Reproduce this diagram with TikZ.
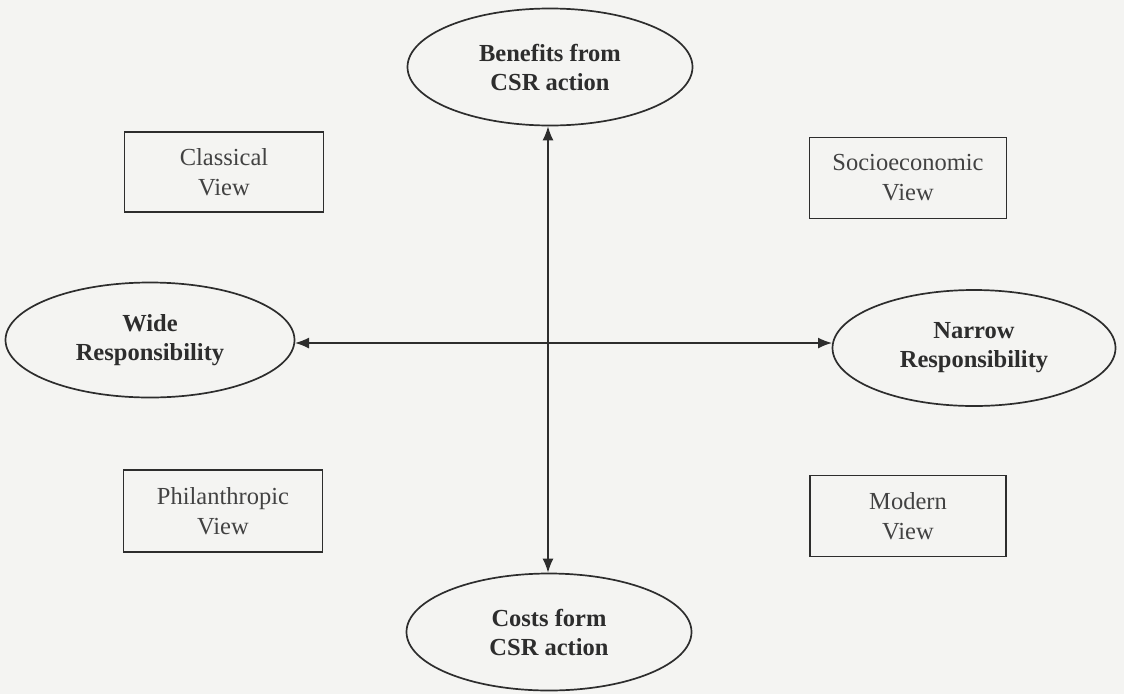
\documentclass[tikz,border=0pt]{standalone}
\usepackage{fontspec}
\setmainfont{Liberation Serif}
\usetikzlibrary{shapes.geometric,arrows.meta}
\definecolor{ink}{RGB}{45,45,45}
\definecolor{paper}{RGB}{244,244,242}
\begin{document}
\begin{tikzpicture}[x=1pt,y=-1pt,
  oval/.style={ellipse,draw=ink,line width=1.7pt,minimum width=285pt,minimum height=117pt,inner sep=0pt,
    font=\fontsize{24.5}{29}\selectfont\bfseries,text=ink,align=center},
  viewbox/.style={rectangle,draw=ink,line width=1.7pt,minimum width=199pt,minimum height=80pt,inner sep=0pt,
    font=\fontsize{24.5}{30}\selectfont,text=ink!90,align=center},
  link/.style={draw=ink,line width=1.5pt,{Latex[length=14pt,width=11pt]}-{Latex[length=14pt,width=11pt]}}]
\fill[paper] (0,0) rectangle (1124,694);
\useasboundingbox (0,0) rectangle (1124,694);
\node[oval] (ben) at (550,67) {Benefits from\\CSR action};
\node[oval] (cost) at (549,632) {Costs form\\CSR action};
\node[oval,minimum width=289pt,minimum height=115pt] (wide) at (150,340) {Wide\\Responsibility};
\node[oval,minimum width=283pt,minimum height=116pt] (narrow) at (974,348) {Narrow\\Responsibility};
\node[viewbox] (classic) at (224,172) {Classical\\View};
\node[viewbox,minimum width=197pt,minimum height=81pt] (socio) at (908,178) {Socioeconomic\\View};
\node[viewbox,minimum height=82pt] (phil) at (223,511) {Philanthropic\\View};
\node[viewbox,minimum width=196pt,minimum height=81pt] (modern) at (908,516) {Modern\\View};
\coordinate (vt) at (548,126);
\coordinate (vb) at (548,573);
\coordinate (hl) at (295,343);
\coordinate (hr) at (832,343);
\draw[link] (ben.south -| vt) -- (cost.north -| vb);
\draw[link] (hl) -- (hr);
\end{tikzpicture}
\end{document}
